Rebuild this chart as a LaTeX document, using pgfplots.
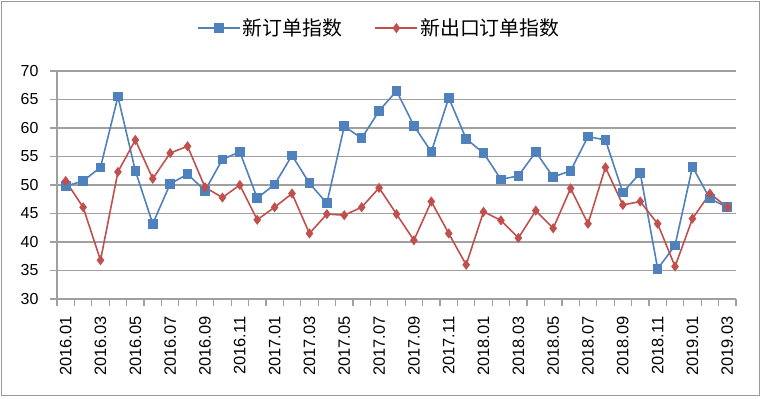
\documentclass[border=0pt]{standalone}
\usepackage{pgfplots}
\pgfplotsset{compat=1.18}
\usepackage{pgfplotstable}
\usepackage{fontspec}
\setmainfont{Liberation Sans}
\newfontfamily\cjk{Noto Sans CJK SC}
\definecolor{sblue}{HTML}{4F81BD}
\definecolor{sred}{HTML}{C0504D}
\definecolor{gridgray}{HTML}{A0A0A0}

\pgfplotstableread{
x new exp
0 49.8 50.7
1 50.7 46.1
2 53.1 36.8
3 65.5 52.3
4 52.5 57.9
5 43.2 51.1
6 50.2 55.6
7 51.9 56.8
8 49.0 49.6
9 54.5 47.8
10 55.8 50.0
11 47.7 43.9
12 50.1 46.1
13 55.2 48.5
14 50.3 41.5
15 46.8 44.9
16 60.3 44.7
17 58.2 46.1
18 63.0 49.5
19 66.5 44.9
20 60.4 40.3
21 55.8 47.1
22 65.3 41.5
23 58.1 36.0
24 55.6 45.3
25 51.0 43.8
26 51.6 40.7
27 55.8 45.5
28 51.4 42.4
29 52.5 49.4
30 58.5 43.2
31 57.9 53.1
32 48.7 46.5
33 52.1 47.1
34 35.3 43.2
35 39.4 35.7
36 53.2 44.1
37 47.6 48.5
38 46.1 46.1
}\datatable

\begin{document}
\begin{tikzpicture}
\begin{axis}[
  scale only axis, width=679bp, height=228bp,
  xmin=-0.5, xmax=38.5, ymin=30, ymax=70,
  axis lines*=left,
  axis line style={-, gridgray, line width=1.5bp},
  tick align=outside,
  major tick length=7bp,
  every tick/.style={gridgray, line width=1.2bp},
  ytick={30,35,...,70},
  ymajorgrids,
  grid style={gridgray, line width=1.5bp},
  /pgf/number format/assume math mode=true,
  tick label style={font=\fontsize{16}{16}\selectfont},
  yticklabel style={xshift=-8bp},
  xtick={-0.5,0.5,...,38.5},
  xticklabels={},
  extra x ticks={0,2,...,38},
  extra x tick labels={2016.01,2016.03,2016.05,2016.07,2016.09,2016.11,2017.01,2017.03,2017.05,2017.07,2017.09,2017.11,2018.01,2018.03,2018.05,2018.07,2018.09,2018.11,2019.01,2019.03},
  extra x tick style={major tick length=0pt, tick label style={rotate=90, anchor=east, xshift=-14bp, font=\fontsize{16.5}{16.5}\selectfont}},
  legend columns=2,
  legend style={at={(0.475,1.188)}, anchor=center, draw=none, fill=none,
    font=\cjk\fontsize{20}{20}\selectfont,
    /tikz/every even column/.append style={column sep=30bp}},
  legend image code/.code={\draw[mark repeat=2,mark phase=2,#1] plot coordinates {(0bp,0bp) (21bp,0bp) (42bp,0bp)};},
]
\addplot[sblue, line width=1.6bp, mark=square*, mark size=4bp, mark options={solid, fill=sblue}] table[x=x,y=new]{\datatable};
\addlegendentry{新订单指数}
\addplot[sred, line width=1.6bp, mark=diamond*, mark size=3.8bp, mark options={solid, fill=sred}] table[x=x,y=exp]{\datatable};
\addlegendentry{新出口订单指数}
\end{axis}
\draw[gray!80, line width=1bp] (-55bp,-96bp) rectangle (702bp,297bp);
\pgfresetboundingbox
\path[use as bounding box] (-57bp,-100bp) rectangle (705bp,299bp);
\end{tikzpicture}
\end{document}
